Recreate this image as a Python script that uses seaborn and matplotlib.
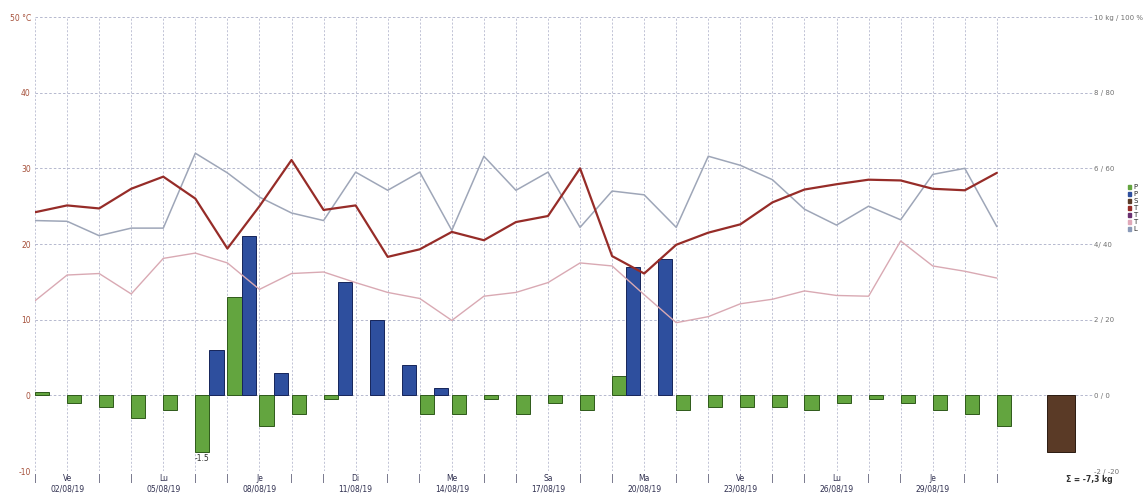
import numpy as np
import pandas as pd
import seaborn as sns
import matplotlib.pyplot as plt
from matplotlib.patches import Patch

# Données (août 2019)
dates = pd.date_range("2019-08-01", "2019-08-31", freq="D")
jours = ["Lu", "Ma", "Me", "Je", "Ve", "Sa", "Di"]

# variation journalière du poids (kg)
poids = [0.1, -0.2, -0.3, -0.6, -0.4, -1.5, 2.6, -0.8, -0.5, -0.1, 0, 0, -0.5, -0.5, -0.1, -0.5,
         -0.2, -0.4, 0.5, 0, -0.4, -0.3, -0.3, -0.3, -0.4, -0.2, -0.1, -0.2, -0.4, -0.5, -0.8]
# pluie (échelle de droite)
pluie = [0, 0, 0, 0, 0, 1.2, 4.2, 0.6, 0, 3.0, 2.0, 0.8, 0.2, 0, 0, 0,
         0, 0, 3.4, 3.6, 0, 0, 0, 0, 0, 0, 0, 0, 0, 0, 0]
somme_barre = -1.5  # barre de somme telle qu'affichée

# températures (°C)
t_max = [24.2, 25.1, 24.7, 27.3, 28.9, 26.0, 19.4, 25.0, 31.1, 24.5, 25.1, 18.3, 19.3, 21.6, 20.5, 22.9,
         23.7, 30.0, 18.4, 16.1, 19.9, 21.5, 22.6, 25.5, 27.2, 27.9, 28.5, 28.4, 27.3, 27.1, 29.4]
t_min = [12.5, 15.9, 16.1, 13.4, 18.1, 18.8, 17.5, 14.0, 16.1, 16.3, 14.9, 13.6, 12.8, 9.9, 13.1, 13.6,
         14.9, 17.5, 17.1, 13.3, 9.6, 10.4, 12.1, 12.7, 13.8, 13.2, 13.1, 20.4, 17.1, 16.4, 15.5]
ligne_l = [23.1, 23.0, 21.1, 22.1, 22.1, 32.0, 29.4, 26.2, 24.1, 23.1, 29.5, 27.1, 29.5, 21.8, 31.6, 27.1,
           29.5, 22.2, 27.0, 26.5, 22.2, 31.6, 30.4, 28.5, 24.6, 22.5, 25.0, 23.2, 29.2, 30.0, 22.3]

gauche_labels = ["-10", "0", "10", "20", "30", "40", "50 °C"]
droite_labels = ["-2 / -20", "0 / 0", "2 / 20", "4/ 40", "6 / 60", "8 / 80", "10 kg / 100 %"]
legende = ["P", "P", "S", "T", "T", "T", "L"]

sns.set_style("white")
plt.rcParams["font.family"] = ["DejaVu Sans"]

fig, ax = plt.subplots(figsize=(11.45, 4.96), dpi=100)
fig.subplots_adjust(left=0.0306, right=0.9546, top=0.9657, bottom=0.0504)
ax2 = ax.twinx()

x = np.arange(len(dates))
larg = 0.44
grille = "#a9adc6"
tirets = (0, (3, 2.5))

# grille
ax2.set_ylim(-2, 10)
ax2.set_yticks(range(-2, 11, 2))
ax2.grid(axis="y", color=grille, linestyle=tirets, linewidth=0.6)
ax2.set_axisbelow(True)
ax2.vlines(x, -2, 10, colors=grille, linestyles=tirets, linewidth=0.5, zorder=0.5)
ax2.axvline(33, color="#a0a0a0", linestyle=tirets, linewidth=0.6, zorder=0.5)

# barres (échelle kg) - pas de contour pour les valeurs nulles
ep_poids = [0.7 if v != 0 else 0 for v in poids]
ep_pluie = [0.7 if v != 0 else 0 for v in pluie]
ax2.bar(x, poids, width=larg, align="edge", color="#63a53f", edgecolor="#2e5a1a", linewidth=ep_poids, zorder=2)
ax2.bar(x + larg, pluie, width=larg, align="edge", color="#2e4f9e", edgecolor="#16245a", linewidth=ep_pluie, zorder=2)
ax2.bar(len(dates) + 0.57, somme_barre, width=2 * larg, align="edge", color="#5a3a26",
        edgecolor="#2a1a10", linewidth=0.7, zorder=2)
i_min = int(np.argmin(poids))
ax2.text(i_min + larg / 2, poids[i_min] - 0.06, f"{poids[i_min]:.1f}", ha="center", va="top",
         fontsize=5.5, color="#303030")

# courbes (échelle °C)
sns.lineplot(x=x, y=ligne_l, ax=ax, color="#9ea6b8", linewidth=1.1)
sns.lineplot(x=x, y=t_min, ax=ax, color="#d9a9b3", linewidth=1.0)
sns.lineplot(x=x, y=t_max, ax=ax, color="#962c28", linewidth=1.6)
ax.set_zorder(ax2.get_zorder() + 1)
ax.patch.set_visible(False)

ax.set_xlim(0, 33)
ax.set_ylim(-10, 50)
ax.set_yticks(range(-10, 51, 10))
ax.set_yticklabels(gauche_labels)
ax.tick_params(axis="y", length=0, pad=3, labelsize=5.5, labelcolor="#a5503a")
ax2.set_yticklabels(droite_labels)
ax2.tick_params(axis="y", length=0, pad=1, labelsize=5, labelcolor="#707070")

etiquettes = []
for i, d in enumerate(dates):
    if i % 3 == 1:
        etiquettes.append(f"{jours[d.weekday()]}\n{d:%d/%m/%y}")
    else:
        etiquettes.append("|")
ax.set_xticks(x)
ax.set_xticklabels(etiquettes)
ax.tick_params(axis="x", length=0, pad=2, labelsize=5.5, labelcolor="#303050")
ax.set_xlabel("")
ax.set_ylabel("")

for a in (ax, ax2):
    for s in a.spines.values():
        s.set_visible(False)

total = sum(poids)
fig.text(1089 / 1145, 1 - 479 / 496, f"Σ = {total:.1f} kg".replace(".", ","), ha="center", va="center",
         fontsize=5.5, fontweight="bold", color="#303030")

couleurs = ["#63a53f", "#2e4f9e", "#5a3a26", "#962c28", "#6a3070", "#e0a8b8", "#8a9ab8"]
poignees = [Patch(facecolor=c, edgecolor=c) for c in couleurs]
fig.legend(poignees, legende, loc="upper left", bbox_to_anchor=(1128 / 1145, 1 - 184 / 496),
           frameon=False, fontsize=5, handlelength=0.5, handleheight=0.5, handletextpad=0.3,
           labelspacing=0.15, borderpad=0, borderaxespad=0)

fig.savefig("out.png", dpi=100)
